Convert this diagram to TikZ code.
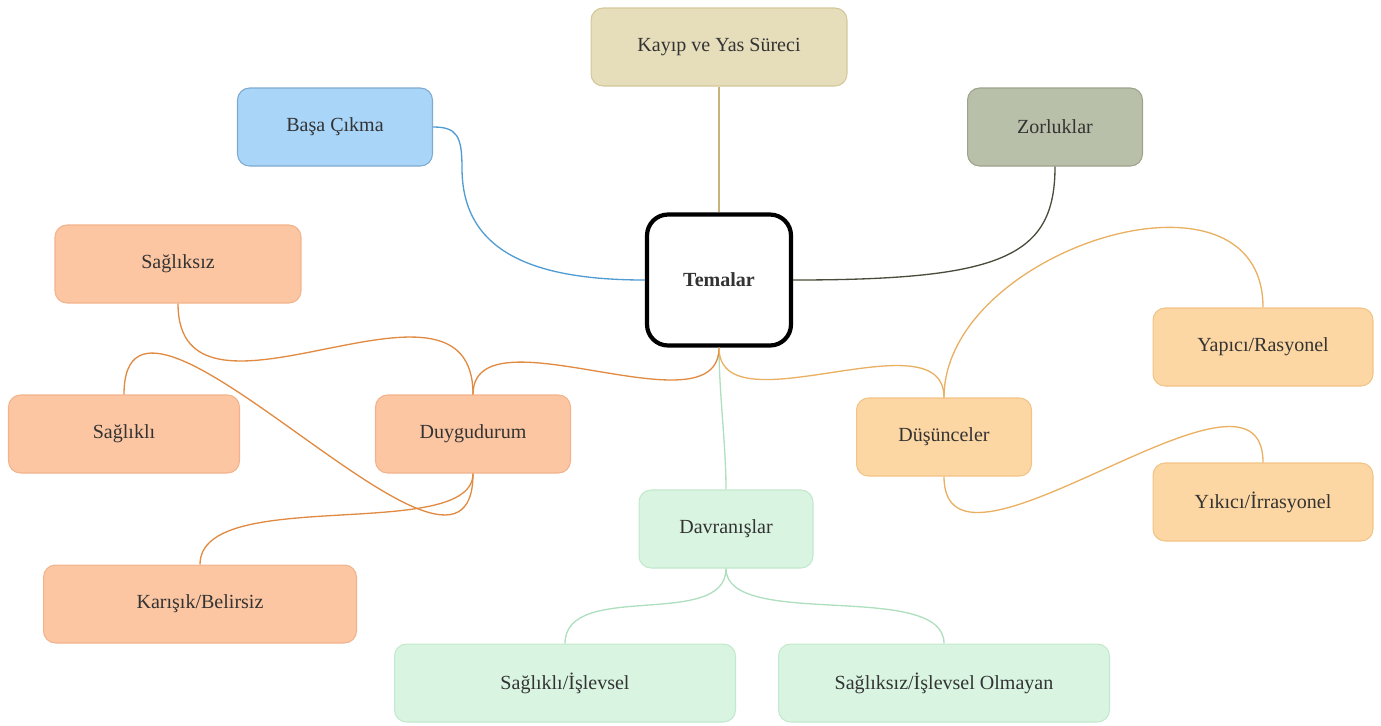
\documentclass[tikz,border=0pt]{standalone}
\usepackage{fontspec}
\setmainfont{Liberation Serif}
\definecolor{txt}{HTML}{333333}
\definecolor{kayF}{HTML}{E6DDBA}\definecolor{kayD}{HTML}{D4C79A}\definecolor{kayL}{HTML}{C9B27C}
\definecolor{basF}{HTML}{A9D5F8}\definecolor{basD}{HTML}{7FAAD0}\definecolor{basL}{HTML}{4F9CD2}
\definecolor{zorF}{HTML}{B9C0A9}\definecolor{zorD}{HTML}{9CA28C}\definecolor{zorL}{HTML}{4B4B3B}
\definecolor{duyF}{HTML}{FCC6A2}\definecolor{duyD}{HTML}{F2B38C}\definecolor{duyL}{HTML}{E08A42}
\definecolor{dusF}{HTML}{FDD7A3}\definecolor{dusD}{HTML}{F2C386}\definecolor{dusL}{HTML}{E9B062}
\definecolor{davF}{HTML}{D9F5E1}\definecolor{davD}{HTML}{C2E8CD}\definecolor{davL}{HTML}{AEDFBE}
\tikzset{
  box/.style={rectangle, rounded corners=0.24cm, line width=0.6pt, minimum height=1.56cm,
    text=txt, font=\fontsize{11.4pt}{13pt}\selectfont, inner sep=0pt},
  conn/.style={line width=0.75pt},
}
\begin{document}
\begin{tikzpicture}[x=0.02cm,y=-0.02cm]
\useasboundingbox (0,0) rectangle (1381,725);
% nodes
\node[box, fill=kayF, draw=kayD, minimum width=5.12cm] (kay) at (719,47) {Kayıp ve Yas Süreci};
\node[box, fill=basF, draw=basD, minimum width=3.9cm] (bas) at (335,127) {Başa Çıkma};
\node[box, fill=zorF, draw=zorD, minimum width=3.5cm] (zor) at (1055,127) {Zorluklar};
\node[rectangle, rounded corners=0.42cm, draw=black, line width=2.4pt, fill=white,
  minimum width=2.88cm, minimum height=2.62cm, text=txt,
  font=\fontsize{11.4pt}{13pt}\selectfont\bfseries] (tem) at (719,280) {Temalar};
\node[box, fill=duyF, draw=duyD, minimum width=4.92cm] (sgz) at (178,264) {Sağlıksız};
\node[box, fill=duyF, draw=duyD, minimum width=4.62cm] (sgl) at (124,434) {Sağlıklı};
\node[box, fill=duyF, draw=duyD, minimum width=3.9cm] (duy) at (473,434) {Duygudurum};
\node[box, fill=duyF, draw=duyD, minimum width=6.26cm] (kar) at (200,604) {Karışık/Belirsiz};
\node[box, fill=davF, draw=davD, minimum width=3.48cm] (dav) at (726,529) {Davranışlar};
\node[box, fill=davF, draw=davD, minimum width=6.82cm] (sif) at (565,683) {Sağlıklı/İşlevsel};
\node[box, fill=davF, draw=davD, minimum width=6.62cm] (sio) at (944,683) {Sağlıksız/İşlevsel Olmayan};
\node[box, fill=dusF, draw=dusD, minimum width=3.5cm] (dus) at (944,437) {Düşünceler};
\node[box, fill=dusF, draw=dusD, minimum width=4.4cm] (yap) at (1263,347) {Yapıcı/Rasyonel};
\node[box, fill=dusF, draw=dusD, minimum width=4.4cm] (yik) at (1263,502) {Yıkıcı/İrrasyonel};
\coordinate (bend) at (462,168);
% connectors
\draw[conn, kayL] (tem.north) -- (kay.south);
\draw[conn, basL] (bas.east) .. controls +(24,0) and +(0,-32) .. (bend)
  .. controls +(0,85) and +(-110,0) .. (tem.west);
\draw[conn, zorL] (tem.east) .. controls +(210,0) and +(0,90) .. (zor.south);
\draw[conn, davL] (tem.south) .. controls +(0,45) and +(0,-45) .. (dav.north);
\draw[conn, duyL] (tem.south) .. controls +(0,88) and +(0,-88) .. (duy.north);
\draw[conn, dusL] (tem.south) .. controls +(0,84) and +(0,-84) .. (dus.north);
\draw[conn, duyL] (duy.north) .. controls +(0,-150) and +(0,150) .. (sgz.south);
\draw[conn, duyL] (duy.south) .. controls +(0,170) and +(0,-170) .. (sgl.north);
\draw[conn, duyL] (duy.south) .. controls +(0,70) and +(0,-80) .. (kar.north);
\draw[conn, dusL] (dus.north) .. controls +(0,-148) and +(0,-158) .. (yap.north);
\draw[conn, dusL] (dus.south) .. controls +(0,130) and +(0,-130) .. (yik.north);
\draw[conn, davL] (dav.south) .. controls +(0,62) and +(0,-64) .. (sif.north);
\draw[conn, davL] (dav.south) .. controls +(0,62) and +(0,-64) .. (sio.north);
\end{tikzpicture}
\end{document}
